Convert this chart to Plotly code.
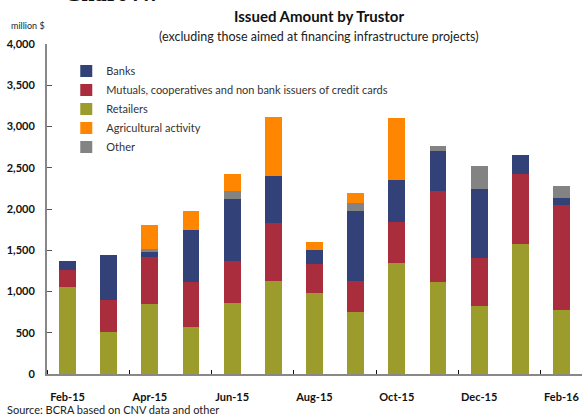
import plotly.graph_objects as go

months = ["Feb-15", "Mar-15", "Apr-15", "May-15", "Jun-15", "Jul-15", "Aug-15",
          "Sep-15", "Oct-15", "Nov-15", "Dec-15", "Jan-16", "Feb-16"]
tick_labels = ["Feb-15", "Apr-15", "Jun-15", "Aug-15", "Oct-15", "Dec-15", "Feb-16"]

retailers = [1059, 515, 853, 575, 866, 1132, 987, 757, 1350, 1120, 829, 1580, 781]
mutuals = [206, 387, 569, 545, 508, 702, 351, 375, 496, 1101, 581, 847, 1271]
banks = [109, 545, 61, 629, 745, 563, 169, 847, 509, 484, 836, 230, 85]
other = [0, 0, 36, 0, 103, 0, 0, 97, 0, 61, 278, 0, 145]
agri = [0, 0, 291, 230, 205, 720, 97, 121, 750, 0, 0, 0, 0]

x = list(range(len(months)))

series = [
    ("Retailers", retailers, "#9B9C2C", 3),
    ("Mutuals, cooperatives and non bank issuers of credit cards", mutuals, "#A92D3D", 2),
    ("Banks", banks, "#324278", 1),
    ("Other", other, "#838383", 5),
    ("Agricultural activity", agri, "#FF8600", 4),
]

fig = go.Figure()
for name, vals, color, rank in series:
    fig.add_trace(go.Bar(
        x=x, y=vals, name=name, marker=dict(color=color, line=dict(width=0)),
        width=0.41, legendrank=rank, customdata=months,
        hovertemplate="%{customdata}<br>" + name + ": %{y:,}<extra></extra>",
    ))

FONT = "Lato"
fig.update_layout(
    barmode="stack",
    width=582, height=416,
    margin=dict(l=47, r=0, t=44, b=42),
    paper_bgcolor="white", plot_bgcolor="white",
    font=dict(family=FONT, size=11, color="#222222"),
    showlegend=True,
    legend=dict(
        x=0.036, y=0.962, xanchor="left", yanchor="top",
        bgcolor="rgba(0,0,0,0)", font=dict(family=FONT, size=11, color="#333333"),
        traceorder="normal", itemclick=False,
    ),
    xaxis=dict(
        range=[-0.5, 12.5], tickvals=[0, 2, 4, 6, 8, 10, 12], ticktext=tick_labels,
        ticks="", showline=True, linecolor="#888888", linewidth=2,
        showgrid=False, zeroline=False,
        tickfont=dict(family=FONT, size=11, color="#111111", weight="bold"),
        ticklabelstandoff=12,
        minor=dict(tick0=1.5, dtick=2, ticks="inside", ticklen=4, tickcolor="#111111", tickwidth=1, showgrid=False),
    ),
    yaxis=dict(
        range=[0, 4000], tickvals=list(range(0, 4001, 500)), tickformat=",",
        ticks="inside", ticklen=5, tickcolor="#555555", tickwidth=1,
        showline=True, linecolor="#888888", linewidth=2,
        showgrid=False, zeroline=False,
        tickfont=dict(family=FONT, size=11, color="#111111", weight="bold"),
        ticklabelstandoff=8,
    ),
    annotations=[
        dict(text="Chart 7.7", xref="paper", yref="paper", x=0.028, y=1.108,
             xanchor="left", yanchor="bottom", showarrow=False,
             font=dict(family="Liberation Serif", size=24, color="#111111", weight="bold")),
        dict(text="<b>Issued Amount by Trustor</b>", xref="paper", yref="paper", x=0.509, y=1.086,
             xanchor="center", yanchor="middle", showarrow=False,
             font=dict(family=FONT, size=15, color="#111111")),
        dict(text="(excluding those aimed at financing infrastructure projects)", xref="paper", yref="paper",
             x=0.509, y=1.023, xanchor="center", yanchor="middle", showarrow=False,
             font=dict(family=FONT, size=12.5, color="#222222")),
        dict(text="million $", xref="paper", yref="paper", x=0.0, y=1.056,
             xanchor="right", yanchor="middle", showarrow=False,
             font=dict(family=FONT, size=9, color="#222222")),
        dict(text="Source: BCRA based on CNV data and other", xref="paper", yref="paper",
             x=-0.078, y=-0.1076, xanchor="left", yanchor="middle", showarrow=False,
             font=dict(family=FONT, size=11, color="#222222")),
    ],
)

fig.write_html("out.html", config={"displayModeBar": False},
               post_script="document.body.style.margin='0px';")
